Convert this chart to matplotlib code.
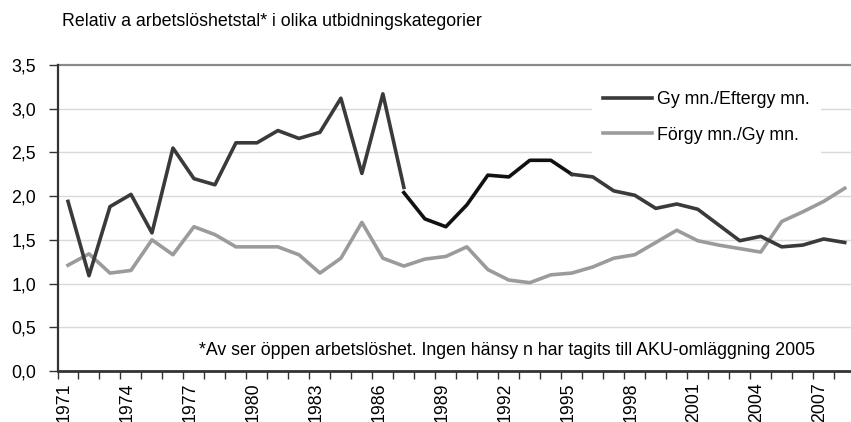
import matplotlib
matplotlib.use("Agg")
import matplotlib.pyplot as plt
import matplotlib.transforms as mtransforms
import numpy as np

plt.rcParams['font.family'] = ['Liberation Sans', 'DejaVu Sans']

years = list(range(1971, 2009))

# Gymn./Eftergymn. in three pieces (series break 1987 and 1995)
gymn_a_years = list(range(1971, 1988))
gymn_a = [1.94, 1.09, 1.88, 2.02, 1.58, 2.55, 2.20, 2.13, 2.61, 2.61,
          2.75, 2.66, 2.73, 3.12, 2.26, 3.17, 2.10]
gymn_b_years = list(range(1987, 1996))
gymn_b = [2.04, 1.74, 1.65, 1.90, 2.24, 2.22, 2.41, 2.41, 2.25]
gymn_c_years = list(range(1995, 2009))
gymn_c = [2.25, 2.22, 2.06, 2.01, 1.86, 1.91, 1.85, 1.67, 1.49, 1.54,
          1.42, 1.44, 1.51, 1.47]

# Förgymn./Gymn.
forgymn = [1.21, 1.34, 1.12, 1.15, 1.50, 1.33, 1.65, 1.56, 1.42, 1.42,
           1.42, 1.33, 1.12, 1.29, 1.70, 1.29, 1.20, 1.28, 1.31, 1.42,
           1.16, 1.04, 1.01, 1.10, 1.12, 1.19, 1.29, 1.33, 1.47, 1.61,
           1.49, 1.44, 1.40, 1.36, 1.71, 1.82, 1.94, 2.09]

yticks = [0.0, 0.5, 1.0, 1.5, 2.0, 2.5, 3.0, 3.5]
ytick_labels = ['0,0', '0,5', '1,0', '1,5', '2,0', '2,5', '3,0', '3,5']

title = 'Relativ a arbetslöshetstal* i olika utbidningskategorier'
note = '*Av ser öppen arbetslöshet. Ingen hänsy n har tagits till AKU-omläggning 2005'
lbl_gymn = 'Gy mn./Eftergy mn.'
lbl_forgymn = 'Förgy mn./Gy mn.'

dark = '#3a3a3a'
gray = '#9b9b9b'
fs = 12.8

fig = plt.figure(figsize=(8.51, 4.22), dpi=100)
ax = fig.add_axes([57.5 / 851, 51 / 422, (851 - 57.5) / 851, 306 / 422])

def idx(ys):
    return [y - 1971 for y in ys]

ax.plot(idx(years), forgymn, color=gray, lw=2.6, zorder=3)
ax.plot(idx(gymn_a_years), gymn_a, color=dark, lw=2.6, zorder=4)
ax.plot(idx(gymn_b_years), gymn_b, color='#111111', lw=2.6, zorder=4)
ax.plot(idx(gymn_c_years), gymn_c, color=dark, lw=2.6, zorder=4)

ax.set_xlim(-0.5, 37.3)
ax.set_ylim(0, 3.5)

# grid
for v in yticks[1:-1]:
    ax.axhline(v, color='#d9d9d9', lw=1, zorder=1)
ax.axhline(3.5, color='#8a8a8a', lw=1.6, zorder=2, clip_on=False)

for s in ['top', 'right']:
    ax.spines[s].set_visible(False)
ax.spines['left'].set_color('#333333')
ax.spines['left'].set_linewidth(1.6)
ax.spines['bottom'].set_color('#333333')
ax.spines['bottom'].set_linewidth(2)

ax.set_yticks(yticks)
ax.set_yticklabels(ytick_labels, fontsize=fs)
ax.tick_params(axis='y', length=6.5, width=1, color='#333333', pad=9)

label_years = years[::3]
ax.set_xticks(idx(label_years))
ax.set_xticklabels([str(y) for y in label_years], rotation=90, fontsize=fs)
ax.tick_params(axis='x', which='major', length=0, pad=8)
ax.set_xticks(np.arange(-0.5, 37.5, 1), minor=True)
ax.tick_params(axis='x', which='minor', length=5.5, width=1, color='#333333')
shift = mtransforms.ScaledTranslation(-4 / 100, 0, fig.dpi_scale_trans)
for lab in ax.get_xticklabels():
    lab.set_transform(lab.get_transform() + shift)

fig.text(62 / 851, 1 - 22 / 422, title, fontsize=fs, va='center', ha='left')
ax.text(20.9, 0.24, note, fontsize=fs, ha='center', va='center', zorder=5)

h1, = ax.plot([], [], color=dark, lw=2.6)
h2, = ax.plot([], [], color=gray, lw=2.6)
leg = ax.legend([h1, h2], [lbl_gymn, lbl_forgymn], loc='upper left',
                bbox_to_anchor=(0.674, 0.95), fontsize=fs, frameon=True,
                handlelength=2.75, handletextpad=0.3, labelspacing=1.05,
                borderpad=0.6, borderaxespad=0)
leg.get_frame().set_edgecolor('none')
leg.get_frame().set_facecolor('white')
leg.get_frame().set_alpha(1)
leg.get_frame().set_boxstyle('square', pad=0)
leg.set_zorder(3)

fig.savefig('out.png', dpi=100)
